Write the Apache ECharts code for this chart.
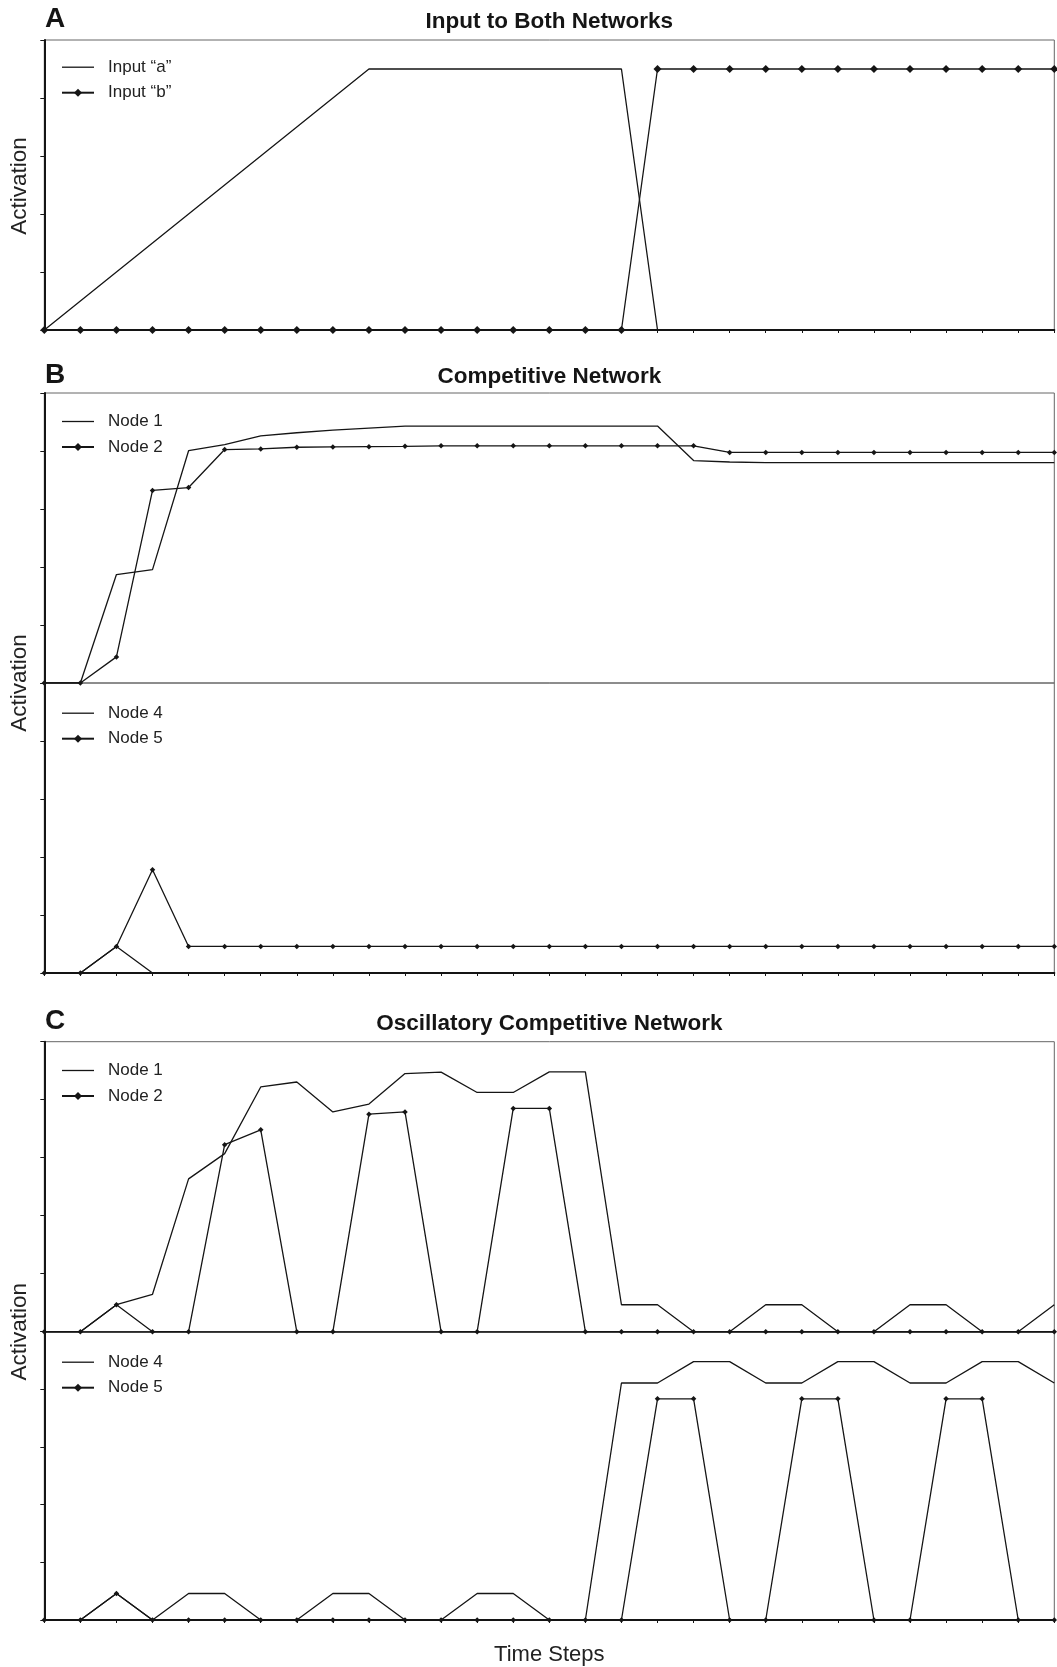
<!DOCTYPE html>
<html><head><meta charset="utf-8">
<script src="https://cdn.jsdelivr.net/npm/echarts@6/dist/echarts.min.js"></script>
<style>html,body{margin:0;padding:0;background:#fff}#c{width:1057px;height:1667px}</style>
</head><body><div id="c"></div>
<script>
// ---- data ----
const timeSteps = [0,1,2,3,4,5,6,7,8,9,10,11,12,13,14,15,16,17,18,19,20,21,22,23,24,25,26,27,28];

// Panel A: Input to Both Networks
const inputA = [0,0.1,0.2,0.3,0.4,0.5,0.6,0.7,0.8,0.9,0.9,0.9,0.9,0.9,0.9,0.9,0.9,0,0,0,0,0,0,0,0,0,0,0,0];
const inputB = [0,0,0,0,0,0,0,0,0,0,0,0,0,0,0,0,0,0.9,0.9,0.9,0.9,0.9,0.9,0.9,0.9,0.9,0.9,0.9,0.9];

// Panel B: Competitive Network
const compNode1 = [0,0,0.374,0.391,0.801,0.822,0.852,0.863,0.872,0.879,0.886,0.886,0.886,0.886,0.886,0.886,0.886,0.886,0.767,0.762,0.760,0.760,0.760,0.760,0.760,0.760,0.760,0.760,0.760];
const compNode2 = [0,0,0.090,0.664,0.674,0.805,0.807,0.813,0.814,0.815,0.816,0.818,0.818,0.818,0.818,0.818,0.818,0.818,0.818,0.795,0.795,0.795,0.795,0.795,0.795,0.795,0.795,0.795,0.795];
const compNode4 = [0,0,0.0915,0,0,0,0,0,0,0,0,0,0,0,0,0,0,0,0,0,0,0,0,0,0,0,0,0,0];
const compNode5 = [0,0,0.0915,0.356,0.0915,0.0915,0.0915,0.0915,0.0915,0.0915,0.0915,0.0915,0.0915,0.0915,0.0915,0.0915,0.0915,0.0915,0.0915,0.0915,0.0915,0.0915,0.0915,0.0915,0.0915,0.0915,0.0915,0.0915,0.0915];

// Panel C: Oscillatory Competitive Network
const oscNode1 = [0,0,0.093,0.129,0.527,0.614,0.844,0.861,0.758,0.785,0.890,0.895,0.825,0.825,0.896,0.896,0.093,0.093,0,0,0.093,0.093,0,0,0.093,0.093,0,0,0.093];
const oscNode2 = [0,0,0.093,0,0,0.645,0.696,0,0,0.750,0.758,0,0,0.770,0.770,0,0,0,0,0,0,0,0,0,0,0,0,0,0];
const oscNode4 = [0,0,0.092,0,0.092,0.092,0,0,0.092,0.092,0,0,0.092,0.092,0,0,0.822,0.822,0.896,0.896,0.822,0.822,0.896,0.896,0.822,0.822,0.896,0.896,0.822];
const oscNode5 = [0,0,0.092,0,0,0,0,0,0,0,0,0,0,0,0,0,0,0.767,0.767,0,0,0.767,0.767,0,0,0.767,0.767,0,0];

const panelLetters = ['A','B','C'];
const panelTitles = ['Input to Both Networks','Competitive Network','Oscillatory Competitive Network'];
const legendNames = [['Input \u201ca\u201d','Input \u201cb\u201d'],['Node 1','Node 2'],['Node 4','Node 5'],['Node 1','Node 2'],['Node 4','Node 5']];
const yLabel = 'Activation';
const xLabel = 'Time Steps';

// ---- layout ----
const FONT = '"Liberation Sans", Arial, sans-serif';
const INK = '#151515';
const L = 44.3, W = 1010, H = 290;
const gridTops = [40, 393, 683, 1041.7, 1331.7];
const legendRow1 = [66.7, 421, 712.7, 1070, 1361.7];
const markerSize = [8, 5.5, 5.5, 5.5, 5.5];

const grids = gridTops.map(t => ({left: L, top: t, width: W, height: H, show: true, borderColor: '#666', borderWidth: 1, backgroundColor: 'transparent'}));

const xAxes = gridTops.map((t, i) => {
  const showLine = i !== 1;
  const ticks = (i === 0 || i === 2 || i === 4);
  const ax = {
    type: 'category', gridIndex: i, data: timeSteps, boundaryGap: false,
    axisLabel: {show: false, interval: 0}, splitLine: {show: false},
    axisLine: {show: showLine, onZero: false, lineStyle: {color: INK, width: i === 3 ? 1.5 : 2}},
    axisTick: {show: ticks, interval: 0, length: 3, lineStyle: {color: INK, width: 1}}
  };
  if (i === 4) {
    ax.name = xLabel; ax.nameLocation = 'middle'; ax.nameGap = 24;
    ax.nameTextStyle = {fontSize: 22, fontFamily: FONT, color: '#222'};
  }
  return ax;
});

const yAxes = gridTops.map((t, i) => ({
  type: 'value', gridIndex: i, min: 0, max: 1, interval: 0.2,
  axisLabel: {show: false}, splitLine: {show: false},
  axisLine: {show: true, onZero: false, lineStyle: {color: INK, width: 2}},
  axisTick: {show: true, length: 4, lineStyle: {color: INK, width: 1}}
}));

function lineSeries(name, data, i, diamond) {
  return {
    name, type: 'line', xAxisIndex: i, yAxisIndex: i, data,
    symbol: diamond ? 'diamond' : 'none', symbolSize: markerSize[i],
    showSymbol: diamond, showAllSymbol: true,
    lineStyle: {color: INK, width: 1.3}, itemStyle: {color: INK},
    animation: false, silent: true, z: diamond ? 3 : 2
  };
}

const seriesData = [[inputA, inputB],[compNode1, compNode2],[compNode4, compNode5],[oscNode1, oscNode2],[oscNode4, oscNode5]];
const series = [];
seriesData.forEach((pair, i) => {
  series.push(lineSeries(legendNames[i][0], pair[0], i, false));
  series.push(lineSeries(legendNames[i][1], pair[1], i, true));
});

const legends = legendNames.map((names, i) => ({
  orient: 'vertical', left: 61, top: legendRow1[i] - 8, padding: 0,
  itemWidth: 32, itemHeight: 10, itemGap: 8.5, selectedMode: false,
  textStyle: {fontSize: 17, fontFamily: FONT, color: '#222', padding: [0, 0, 0, 9]},
  data: [{name: names[0], icon: 'path://M0,0H32V1.3H0Z'}, {name: names[1]}]
}));

const letterY = [19.5, 375.5, 1021];
const titleY = [21.3, 376.5, 1024];
const titles = [];
panelLetters.forEach((t, i) => {
  titles.push({text: t, left: 45, top: letterY[i], padding: 0, textAlign: 'left', textVerticalAlign: 'middle',
    textStyle: {fontSize: 28, fontWeight: 'bold', fontFamily: FONT, color: INK}});
  titles.push({text: panelTitles[i], left: L + W / 2, top: titleY[i], padding: 0, textAlign: 'center', textVerticalAlign: 'middle',
    textStyle: {fontSize: 22.5, fontWeight: 'bold', fontFamily: FONT, color: INK}});
});

const actY = [186, 683, 1331.7];
const graphics = actY.map(y => ({
  type: 'text', x: 19.5, y: y, rotation: Math.PI / 2, silent: true,
  style: {text: yLabel, font: '22.5px ' + FONT, fill: '#222', align: 'center', verticalAlign: 'middle', textAlign: 'center', textVerticalAlign: 'middle'}
}));

const chart = echarts.init(document.getElementById('c'), null, {renderer: 'canvas'});
chart.setOption({
  backgroundColor: '#fff',
  animation: false,
  title: titles,
  legend: legends,
  grid: grids,
  xAxis: xAxes,
  yAxis: yAxes,
  series: series,
  graphic: graphics
});
</script></body></html>
